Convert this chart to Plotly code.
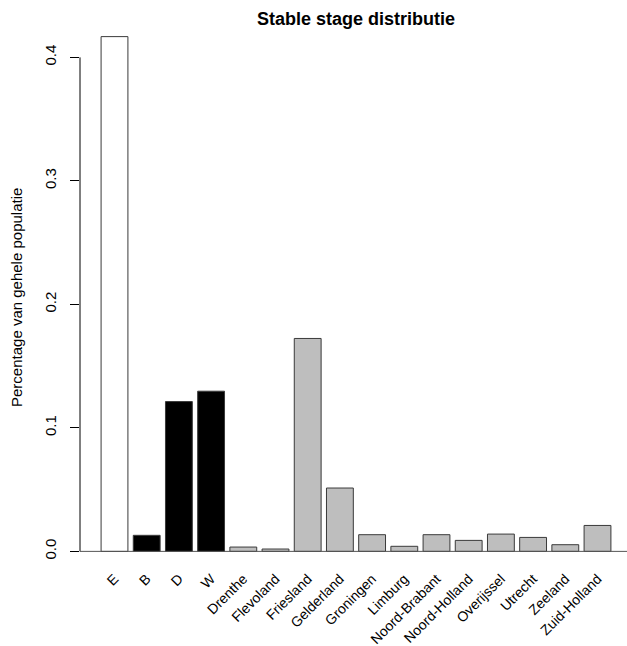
import plotly.graph_objects as go

categories = ["E", "B", "D", "W", "Drenthe", "Flevoland", "Friesland", "Gelderland",
              "Groningen", "Limburg", "Noord-Brabant", "Noord-Holland", "Overijssel",
              "Utrecht", "Zeeland", "Zuid-Holland"]
values = [0.4168, 0.0130, 0.1213, 0.1297, 0.0035, 0.0019, 0.1724, 0.0513,
          0.0135, 0.0041, 0.0135, 0.0089, 0.0140, 0.0113, 0.0054, 0.0210]
bar_colors = ["#FFFFFF", "#000000", "#000000", "#000000"] + ["#BEBEBE"] * 12
y_ticks = [0.0, 0.1, 0.2, 0.3, 0.4]
y_tick_labels = ["0.0", "0.1", "0.2", "0.3", "0.4"]

FONT = "Liberation Sans, Arial, Helvetica, sans-serif"
W, H = 627, 646
ML, MR, MT, MB = 80, 0, 16, 74

fig = go.Figure(go.Bar(
    x=categories, y=values,
    marker=dict(color=bar_colors, line=dict(color="#3a3a3a", width=1)),
    hoverinfo="x+y",
))

pw = W - ML - MR
step = 32.2
first_center = 114.5
x0 = -(first_center - ML) / step
x1 = (W - MR - first_center) / step

fig.update_layout(
    width=W, height=H,
    margin=dict(l=ML, r=MR, t=MT, b=MB, autoexpand=False),
    plot_bgcolor="white", paper_bgcolor="white",
    bargap=0.1667,
    showlegend=False,
    font=dict(family=FONT, color="black", size=15),
    title=dict(text="<b>Stable stage distributie</b>", x=356 / W, xanchor="center",
               y=1 - 19 / H, yanchor="middle", xref="container",
               font=dict(family=FONT, size=18, color="black")),
    xaxis=dict(range=[x0, x1], showline=False, showgrid=False, zeroline=False,
               ticks="", tickangle=-45, tickfont=dict(size=14, family=FONT),
               ticklabelstandoff=-5, automargin=False),
    yaxis=dict(range=[-0.0167, 0.4335], showline=False, showgrid=False, zeroline=False,
               ticks="outside", ticklen=9, tickwidth=1, tickcolor="black",
               tickvals=y_ticks, ticktext=y_tick_labels, tickangle=-90,
               tickfont=dict(size=15, family=FONT), ticklabelstandoff=8,
               automargin=False),
    shapes=[
        dict(type="line", xref="paper", yref="y", x0=0, x1=0, y0=0, y1=0.4,
             line=dict(color="black", width=1)),
        dict(type="line", xref="paper", yref="y", x0=0, x1=1, y0=0, y1=0,
             line=dict(color="#555555", width=1)),
    ],
    annotations=[
        dict(text="Percentage van gehele populatie", xref="paper", yref="paper",
             x=(16 - ML) / pw, y=(572 - 298) / (H - MT - MB), xanchor="center",
             yanchor="middle", textangle=-90, showarrow=False,
             font=dict(family=FONT, size=15, color="black")),
    ],
)

fig.write_html("out.html", config={"displayModeBar": False},
               post_script="document.body.style.margin='0';document.body.style.overflow='hidden';")
